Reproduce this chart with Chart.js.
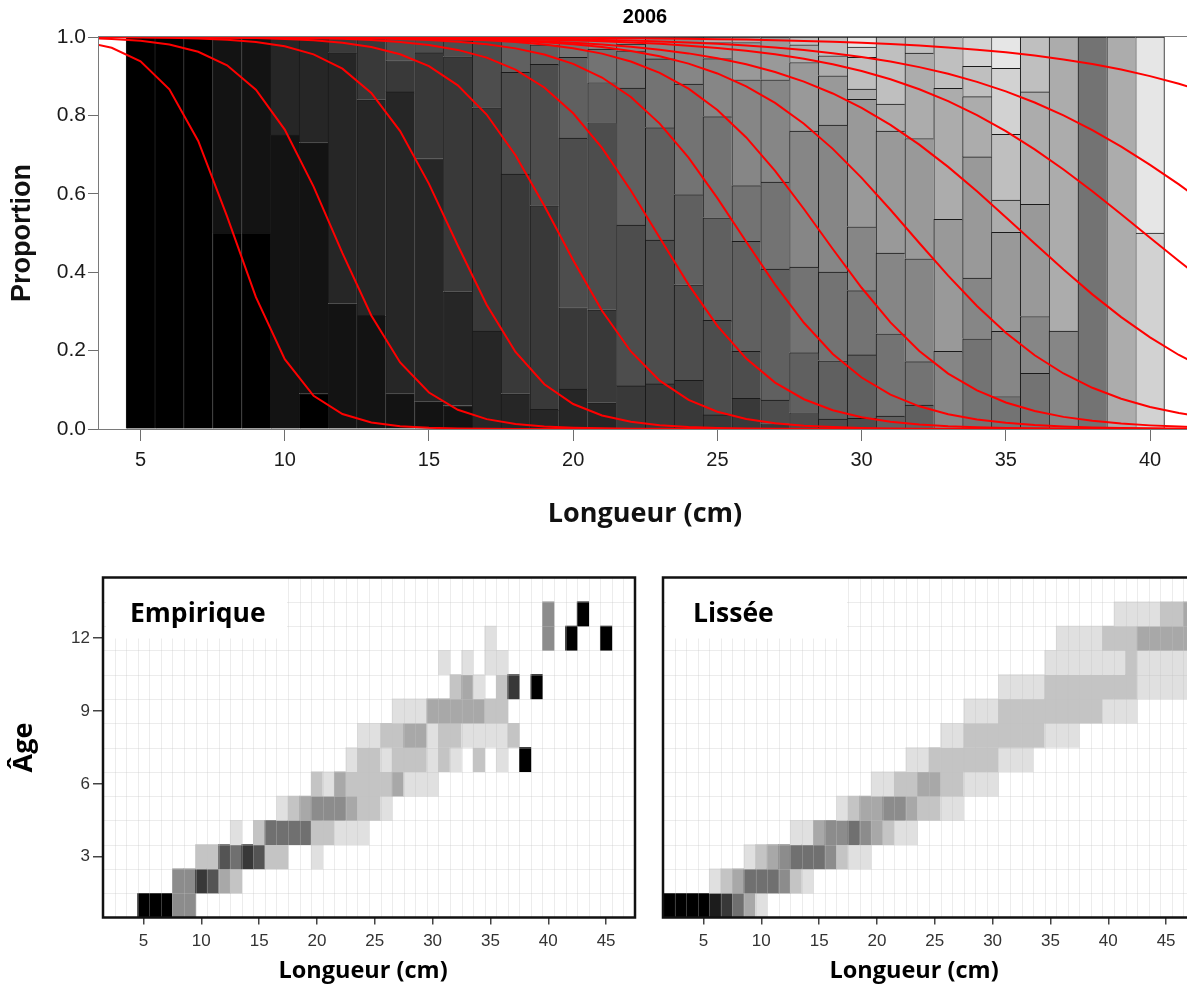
<!DOCTYPE html>
<html lang="fr">
<head>
<meta charset="utf-8">
<title>Clé âge-longueur 2006</title>
<script src="https://cdn.jsdelivr.net/npm/chart.js@4/dist/chart.umd.min.js"></script>
<style>
  html, body { margin: 0; padding: 0; background: #ffffff; }
  body { width: 1187px; height: 1001px; overflow: hidden; position: relative; }
  canvas { position: absolute; }
  #topChart { left: 0; top: 0; }
  #empChart { left: 0; top: 545px; }
  #lisChart { left: 560px; top: 545px; }
</style>
</head>
<body>
<canvas id="topChart" width="1200" height="545"></canvas>
<canvas id="empChart" width="660" height="456"></canvas>
<canvas id="lisChart" width="660" height="456"></canvas>
<script>
// ---- Data -------------------------------------------------------------
// Length classes (cm), one column per class from 5 to 45 cm
const lengthClasses = [5,6,7,8,9,10,11,12,13,14,15,16,17,18,19,20,21,22,23,24,25,
                       26,27,28,29,30,31,32,33,34,35,36,37,38,39,40,41,42,43,44,45];
const ages = [1,2,3,4,5,6,7,8,9,10,11,12,13];

// Observed proportion of each age within each length class (2006)
const age1  = [1,1,1,.5,.5,0,.09,0,0,0, 0,0,0,0,0,0,0,0,0,0, 0,0,0,0,0,0,0,0,0,0, 0,0,0,0,0,0,0,0,0,0, 0];
const age2  = [0,0,0,.5,.5,.75,.64,.32,.29,.09, .07,.06,0,0,0,0,0,0,0,0, 0,0,0,0,0,0,0,0,0,0, 0,0,0,0,0,0,0,0,0,0, 0];
const age3  = [0,0,0,0,0,.25,.27,.64,.55,.77, .62,.29,.25,.09,.05,.102,.067,0,0,0, 0,0,0,0,0,0,0,0,0,0, 0,0,0,0,0,0,0,0,0,0, 0];
const age4  = [0,0,0,0,0,0,0,.04,.16,.08, .27,.60,.57,.56,.52,.208,.237,.11,.115,.124, .036,.078,.014,0,0,0,0,0,0,0, 0,0,0,0,0,0,0,0,0,0, 0];
const age5  = [0,0,0,0,0,0,0,0,0,.06, .04,.04,.18,.26,.36,.432,.478,.41,.367,.244, .241,.12,.06,.042,.025,.027,0,0,0,0, 0,0,0,0,0,0,0,0,0,0, 0];
const age6  = [0,0,0,0,0,0,0,0,0,0, 0,.01,0,.09,.05,.206,.102,.35,.287,.23, .262,.281,.334,.153,.149,.162,.033,.061,0,0, 0,0,0,0,0,0,0,0,0,0, 0];
const age7  = [0,0,0,0,0,0,0,0,0,0, 0,0,0,0,.02,.052,.085,.095,.175,.282, .258,.142,.222,.218,.226,.164,.21,.111,0,.23, .083,.142,0,1,0,0,0,0,0,0, 0];
const age8  = [0,0,0,0,0,0,0,0,0,0, 0,0,0,0,0,0,.031,.017,.056,.12, .148,.27,.261,.347,.375,.163,.206,.262,.198,.155, .166,.145,.25,0,0,0,0,0,0,0, 0];
const age9  = [0,0,0,0,0,0,0,0,0,0, 0,0,0,0,0,0,0,.018,0,0, .041,.095,.109,.175,.126,.325,.311,.307,.337,.309, .253,.286,0,0,0,0,0,0,0,0, 0];
const age10 = [0,0,0,0,0,0,0,0,0,0, 0,0,0,0,0,0,0,0,0,0, .014,.014,0,.045,.051,.026,.069,.218,.334,.154, .082,.287,.75,0,1,0,0,0,0,0, 0];
const age11 = [0,0,0,0,0,0,0,0,0,0, 0,0,0,0,0,0,0,0,0,0, 0,0,0,.02,.048,.081,.171,.041,.131,.077, .168,.14,0,0,0,0,0,0,0,0, 0];
const age12 = [0,0,0,0,0,0,0,0,0,0, 0,0,0,0,0,0,0,0,0,0, 0,0,0,0,0,.026,0,0,0,.075, .168,0,0,0,0,.5,0,1,0,0, 1];
const age13 = [0,0,0,0,0,0,0,0,0,0, 0,0,0,0,0,0,0,0,0,0, 0,0,0,0,0,.026,0,0,0,0, .08,0,0,0,0,.5,0,0,1,0, 0];
const ageProportions = [age1, age2, age3, age4, age5, age6, age7, age8, age9, age10, age11, age12, age13];

// Fitted ordinal logistic model: P(age <= k | length), k = 1..12
// (length at 50 % and slope per cm of each cumulative curve)
const curveMid   = [8.2, 11.7, 15.8, 19.5, 22.9, 25.8, 28.6, 31.7, 35.6, 39.8, 43.3, 51.0];
const curveSlope = [0.85, 0.69, 0.64, 0.56, 0.49, 0.45, 0.41, 0.34, 0.27, 0.24, 0.22, 0.20];
const curveLengths  = [3,4,5,6,7,8,9,10,11,12,13,14,15,16,17,18,19,20,21,22,23,24,25,26,
                       27,28,29,30,31,32,33,34,35,36,37,38,39,40,41,42];
const smoothLengths = [2,3,4,5,6,7,8,9,10,11,12,13,14,15,16,17,18,19,20,21,22,23,24,25,26,
                       27,28,29,30,31,32,33,34,35,36,37,38,39,40,41,42,43,44,45,46,47];

// Axis ticks
const proportionTicks = [0, 0.2, 0.4, 0.6, 0.8, 1.0];
const lengthTicks     = [5, 10, 15, 20, 25, 30, 35, 40];
const heatLengthTicks = [5, 10, 15, 20, 25, 30, 35, 40, 45];
const ageTicks        = [3, 6, 9, 12];

// ---- Styles -----------------------------------------------------------
const ageFill = ['#000000','#131313','#262626','#393939','#4d4d4d','#606060','#737373',
                 '#868686','#999999','#acacac','#bfbfbf','#d2d2d2','#e6e6e6'];
const SANS = "'Liberation Sans', Arial, sans-serif";
const HUMAN = "'Open Sans', 'DejaVu Sans', sans-serif";
const TOP_X_RANGE = [3.56, 41.42];

// ---- Helpers ----------------------------------------------------------
function cumulativeAge(k, L) {
  return 1 / (1 + Math.exp(curveSlope[k] * (L - curveMid[k])));
}
function smoothProportion(ageIdx, L) {
  const upper = ageIdx < curveMid.length ? cumulativeAge(ageIdx, L) : 1;
  const lower = ageIdx > 0 ? cumulativeAge(ageIdx - 1, L) : 0;
  return upper - lower;
}
// grey level of a heat-map cell: classes of 0.1, blank up to 0.1
function heatShade(p) {
  const step = Math.min(8, Math.ceil(p * 10 - 1e-9) - 2);
  const g = 224 - 28 * step;
  return 'rgb(' + g + ',' + g + ',' + g + ')';
}
function stackSegments(ageIdx) {
  const out = [];
  lengthClasses.forEach((L, i) => {
    const p = ageProportions[ageIdx][i];
    if (!p || L > TOP_X_RANGE[1]) return;
    let base = 0;
    for (let k = 0; k < ageIdx; k++) base += ageProportions[k][i];
    out.push({ x: L, y: [base, base + p] });
  });
  return out;
}
const lastBar = Math.max(...lengthClasses.filter((L, i) =>
  L <= TOP_X_RANGE[1] && ageProportions.some(a => a[i] > 0)));

// ---- Top panel: stacked age composition with fitted curves ------------
const curveSets = curveMid.map((m, k) => ({
  type: 'line',
  data: curveLengths.map(L => ({ x: L, y: cumulativeAge(k, L) })),
  borderColor: '#ff0000',
  borderWidth: 2,
  pointRadius: 0,
  tension: 0,
  fill: false,
  order: 0
}));
const barSets = ages.map((age, a) => ({
  type: 'bar',
  label: 'Âge ' + age,
  data: stackSegments(a),
  backgroundColor: ageFill[a],
  borderColor: '#1a1a1a',
  borderWidth: ctx => ({ left: 1, top: 1, bottom: 0,
                         right: ctx.raw && ctx.raw.x === lastBar ? 1 : 0 }),
  borderSkipped: false,
  grouped: false,
  barPercentage: 1,
  categoryPercentage: 1,
  order: 1
}));

const plotBox = {
  id: 'plotBox',
  beforeDatasetsDraw(chart) {
    const { ctx, chartArea: a } = chart;
    ctx.save();
    ctx.strokeStyle = '#7a7a7a';
    ctx.lineWidth = 1;
    ctx.strokeRect(a.left - 0.5, a.top - 0.5, a.width + 1, a.height + 1);
    ctx.restore();
  }
};

new Chart(document.getElementById('topChart'), {
  type: 'bar',
  data: { datasets: [...curveSets, ...barSets] },
  options: {
    responsive: false,
    animation: false,
    layout: { padding: { left: 0, right: 9, top: 0, bottom: 0 } },
    plugins: {
      legend: { display: false },
      tooltip: { enabled: false },
      title: {
        display: true, text: '2006', fullSize: false, color: '#000',
        font: { family: SANS, size: 20, weight: 'bold', lineHeight: 1.2 },
        padding: { top: 5, bottom: 8 }
      }
    },
    scales: {
      x: {
        type: 'linear', offset: false, min: TOP_X_RANGE[0], max: TOP_X_RANGE[1],
        afterBuildTicks: s => { s.ticks = lengthTicks.map(v => ({ value: v })); },
        afterFit: s => { s.height = 116; },
        grid: { display: true, drawOnChartArea: false, drawTicks: true, tickLength: 12, color: '#6e6e6e', lineWidth: 1, offset: false },
        border: { display: false },
        ticks: { font: { family: SANS, size: 20 }, color: '#1a1a1a', padding: 7, maxRotation: 0, autoSkip: false },
        title: { display: true, text: 'Longueur (cm)', color: '#111',
                 font: { family: HUMAN, size: 27, weight: 'bold', lineHeight: 1.2 },
                 padding: { top: 0, bottom: 14 } }
      },
      y: {
        type: 'linear', min: 0, max: 1,
        afterBuildTicks: s => { s.ticks = proportionTicks.map(v => ({ value: v })); },
        afterFit: s => { s.width = 99; },
        grid: { display: true, drawOnChartArea: false, drawTicks: true, tickLength: 11, color: '#6e6e6e', lineWidth: 1 },
        border: { display: false },
        ticks: { font: { family: SANS, size: 21 }, color: '#1a1a1a', padding: 2,
                 callback: v => Number(v).toFixed(1) },
        title: { display: true, text: 'Proportion', color: '#111',
                 font: { family: SANS, size: 27, weight: 'bold', lineHeight: 1.2 },
                 padding: { top: 6, bottom: 0 } }
      }
    }
  },
  plugins: [plotBox]
});

// ---- Bottom panels: age-length keys as heat maps -----------------------
const empiricalCells = [];
lengthClasses.forEach((L, i) => {
  ages.forEach((age, a) => {
    const p = ageProportions[a][i];
    if (p > 0.1 + 1e-9) empiricalCells.push({ x: L, y: [age - 0.5, age + 0.5], p });
  });
});
const smoothedCells = [];
smoothLengths.forEach(L => {
  ages.forEach((age, a) => {
    const p = smoothProportion(a, L);
    if (p > 0.1 + 1e-9) smoothedCells.push({ x: L, y: [age - 0.5, age + 0.5], p });
  });
});

function heatDecor(text, dx, titleDx) {
  return {
    id: 'heatDecor',
    afterDatasetsDraw(chart) {
      const { ctx, chartArea: a, scales: { x, y } } = chart;
      ctx.save();
      ctx.beginPath();
      ctx.rect(a.left, a.top, a.width, a.height);
      ctx.clip();
      ctx.strokeStyle = 'rgba(194,194,194,0.31)';
      ctx.lineWidth = 1;
      ctx.beginPath();
      for (let v = x.min + 1; v < x.max; v += 1) {
        const px = Math.round(x.getPixelForValue(v)) + 0.5;
        ctx.moveTo(px, a.top); ctx.lineTo(px, a.bottom);
      }
      for (let v = y.min + 1; v < y.max; v += 1) {
        const py = Math.round(y.getPixelForValue(v)) + 0.5;
        ctx.moveTo(a.left, py); ctx.lineTo(a.right, py);
      }
      ctx.stroke();
      ctx.fillStyle = '#ffffff';
      ctx.fillRect(a.left + 3, a.top + 1, 181, 60);
      ctx.fillStyle = '#000000';
      ctx.font = "700 26.5px " + HUMAN;
      ctx.textBaseline = 'alphabetic';
      ctx.textAlign = 'left';
      ctx.fillText(text, a.left + dx, a.top + 44);
      ctx.restore();
      ctx.save();
      ctx.strokeStyle = '#111111';
      ctx.lineWidth = 2.5;
      ctx.strokeRect(a.left, a.top, a.width, a.height);
      // axis title under the panel
      ctx.fillStyle = '#000000';
      ctx.font = "700 23.5px " + HUMAN;
      ctx.textAlign = 'center';
      ctx.textBaseline = 'middle';
      ctx.fillText('Longueur (cm)', (a.left + a.right) / 2 + titleDx, chart.height - 30);
      ctx.restore();
    }
  };
}

function heatmap(canvasId, cells, text, dx, titleDx, showAges) {
  return new Chart(document.getElementById(canvasId), {
    type: 'bar',
    data: {
      datasets: [{
        label: text,
        data: cells,
        backgroundColor: ctx => heatShade(ctx.raw.p),
        borderWidth: 0,
        grouped: false,
        barPercentage: 1,
        categoryPercentage: 1
      }]
    },
    options: {
      responsive: false,
      animation: false,
      layout: { padding: { left: 0, right: 25, top: 32.5, bottom: 0 } },
      plugins: { legend: { display: false }, tooltip: { enabled: false } },
      scales: {
        x: {
          type: 'linear', offset: false, min: 1.5, max: 47.5,
          afterBuildTicks: s => { s.ticks = heatLengthTicks.map(v => ({ value: v })); },
          afterFit: s => { s.height = 83.5; },
          grid: { display: true, drawOnChartArea: false, drawTicks: true, tickLength: 7, color: '#444', lineWidth: 1.5, offset: false },
          border: { display: false },
          ticks: { font: { family: SANS, size: 17 }, color: '#333', padding: 7, maxRotation: 0, autoSkip: false }
        },
        y: {
          type: 'linear', min: 0.5, max: 14.5,
          afterBuildTicks: s => { s.ticks = ageTicks.map(v => ({ value: v })); },
          afterFit: s => { s.width = 103; },
          grid: { display: showAges, drawOnChartArea: false, drawTicks: true, tickLength: 10, color: '#444', lineWidth: 1.5 },
          border: { display: false },
          ticks: { display: showAges, font: { family: SANS, size: 17 }, color: '#333', padding: 3 },
          title: { display: showAges, text: 'Âge', color: '#000',
                   font: { family: HUMAN, size: 27, weight: 'bold', lineHeight: 1.2 },
                   padding: { top: 8, bottom: 0 } }
        }
      }
    },
    plugins: [heatDecor(text, dx, titleDx)]
  });
}

heatmap('empChart', empiricalCells, 'Empirique', 27, -6, true);
heatmap('lisChart', smoothedCells, 'Lissée', 30, -15, false);
</script>
</body>
</html>
